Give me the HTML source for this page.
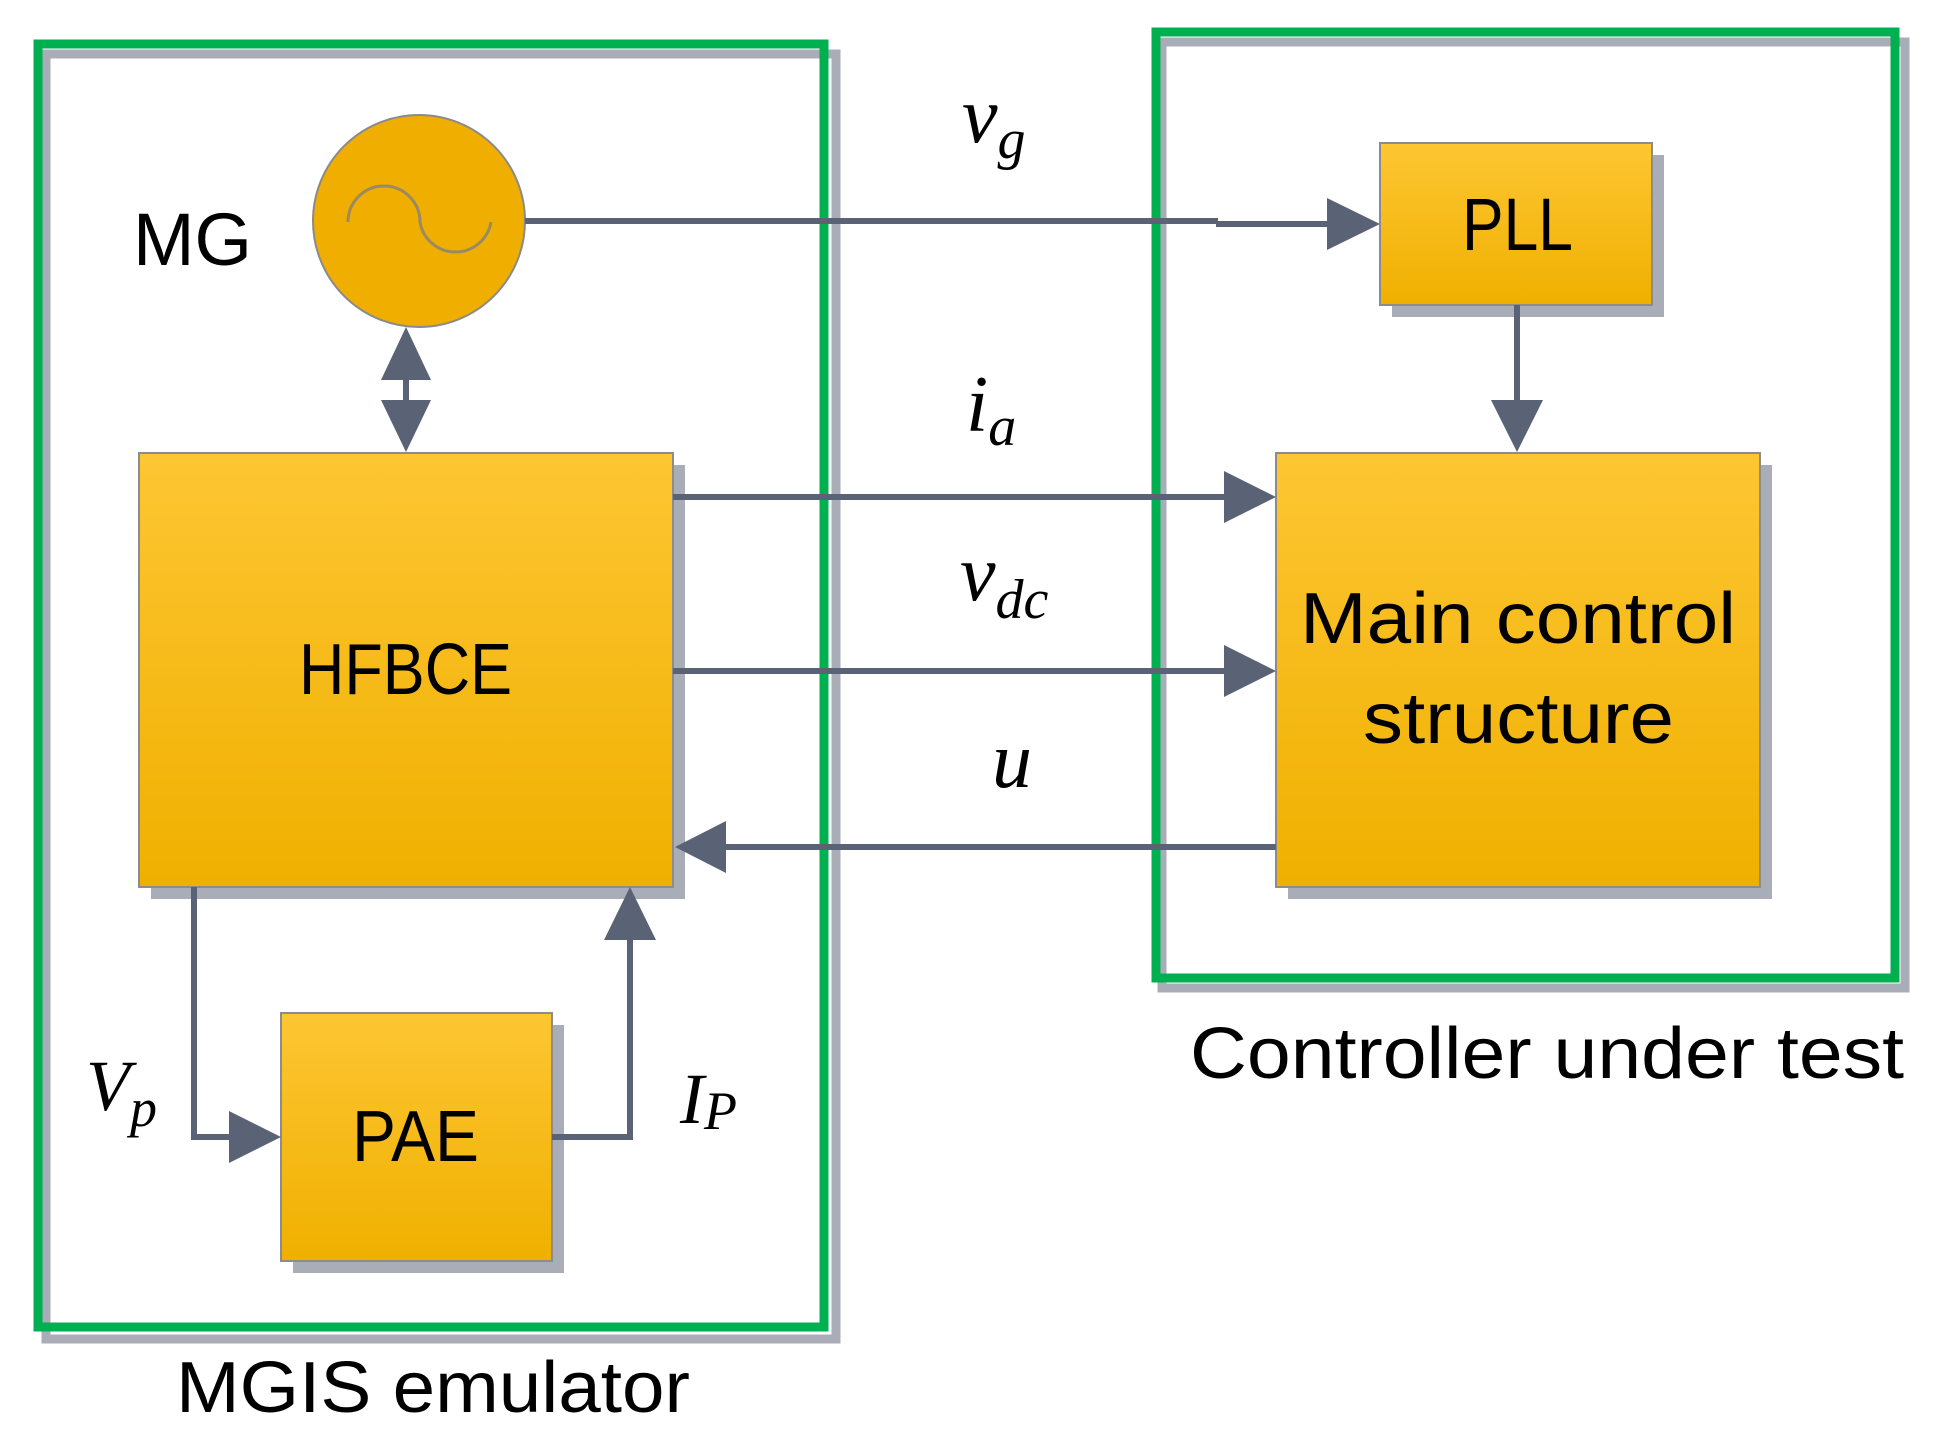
<!DOCTYPE html>
<html><head><meta charset="utf-8"><style>
html,body{margin:0;padding:0;background:#fff;}
svg{display:block;}
.s{font-family:"Liberation Sans",sans-serif;fill:#000;}
.m{font-family:"Liberation Serif",serif;font-style:italic;fill:#000;}
</style></head><body>
<svg width="1940" height="1436" viewBox="0 0 1940 1436" xmlns="http://www.w3.org/2000/svg">
<defs>
<linearGradient id="g" x1="0" y1="0" x2="0" y2="1">
<stop offset="0" stop-color="#fdc633"/><stop offset="1" stop-color="#f0b000"/>
</linearGradient>
</defs>
<rect x="46" y="54" width="790" height="1285" fill="none" stroke="#a9adb8" stroke-width="9"/>
<rect x="1162" y="42" width="743" height="946" fill="none" stroke="#a9adb8" stroke-width="9"/>
<rect x="38" y="44" width="786" height="1283" fill="none" stroke="#00b050" stroke-width="9"/>
<rect x="1156" y="32" width="739" height="946" fill="none" stroke="#00b050" stroke-width="9"/>

<rect x="151" y="465" width="534" height="434" fill="#a9adb8"/>
<rect x="1392" y="155" width="272" height="162" fill="#a9adb8"/>
<rect x="1288" y="465" width="484" height="434" fill="#a9adb8"/>
<rect x="293" y="1025" width="271" height="248" fill="#a9adb8"/>
<rect x="139" y="453" width="534" height="434" fill="url(#g)" stroke="#8c8c8c" stroke-width="2"/>
<rect x="1380" y="143" width="272" height="162" fill="url(#g)" stroke="#8c8c8c" stroke-width="2"/>
<rect x="1276" y="453" width="484" height="434" fill="url(#g)" stroke="#8c8c8c" stroke-width="2"/>
<rect x="281" y="1013" width="271" height="248" fill="url(#g)" stroke="#8c8c8c" stroke-width="2"/>

<circle cx="419" cy="221" r="106" fill="#f0ae00" stroke="#8a8a8a" stroke-width="2"/>
<path d="M348 222 A36 36 0 0 1 420 222 A36 36 0 0 0 491 222" fill="none" stroke="#9a8a60" stroke-width="3"/>

<g stroke="#5a6275" stroke-width="6" fill="none">
<line x1="525" y1="221" x2="1218" y2="221"/>
<line x1="1216" y1="224" x2="1330" y2="224"/>
<line x1="1517" y1="305" x2="1517" y2="405"/>
<line x1="673" y1="497" x2="1228" y2="497"/>
<line x1="673" y1="671" x2="1228" y2="671"/>
<line x1="720" y1="847" x2="1276" y2="847"/>
<line x1="406" y1="375" x2="406" y2="405"/>
<polyline points="194,887 194,1137 232,1137"/>
<polyline points="552,1137 630,1137 630,940"/>
</g>
<g fill="#5a6275">
<polygon points="1380,224 1327,198 1327,250"/>
<polygon points="1517,452 1491,400 1543,400"/>
<polygon points="1276,497 1224,471 1224,523"/>
<polygon points="1276,671 1224,645 1224,697"/>
<polygon points="675,847 726,821 726,873"/>
<polygon points="406,327 381,380 431,380"/>
<polygon points="406,452 381,400 431,400"/>
<polygon points="281,1137 229,1111 229,1163"/>
<polygon points="630,887 604,940 656,940"/>
</g>

<text class="s" x="133" y="265" font-size="74" textLength="119" lengthAdjust="spacingAndGlyphs">MG</text>
<text class="s" x="299" y="694" font-size="72" textLength="213" lengthAdjust="spacingAndGlyphs">HFBCE</text>
<text class="s" x="1462" y="250" font-size="74" textLength="111" lengthAdjust="spacingAndGlyphs">PLL</text>
<text class="s" x="1300" y="643" font-size="72" textLength="436" lengthAdjust="spacingAndGlyphs">Main control</text>
<text class="s" x="1363" y="743" font-size="72" textLength="311" lengthAdjust="spacingAndGlyphs">structure</text>
<text class="s" x="352" y="1161" font-size="72" textLength="127" lengthAdjust="spacingAndGlyphs">PAE</text>
<text class="s" x="1190" y="1078" font-size="72" textLength="714" lengthAdjust="spacingAndGlyphs">Controller under test</text>
<text class="s" x="176" y="1412" font-size="72" textLength="514" lengthAdjust="spacingAndGlyphs">MGIS emulator</text>

<text class="m" x="962" y="142" font-size="80">v<tspan font-size="56" dy="16">g</tspan></text>
<text class="m" x="966" y="431" font-size="80">i<tspan font-size="56" dy="14">a</tspan></text>
<text class="m" x="960" y="600" font-size="80">v<tspan font-size="56" dy="18">dc</tspan></text>
<text class="m" x="992" y="787" font-size="80">u</text>
<text class="m" x="86" y="1110" font-size="72">V<tspan font-size="54" dy="16">p</tspan></text>
<text class="m" x="680" y="1123" font-size="72">I<tspan font-size="54" dy="6">P</tspan></text>
</svg>
</body></html>
